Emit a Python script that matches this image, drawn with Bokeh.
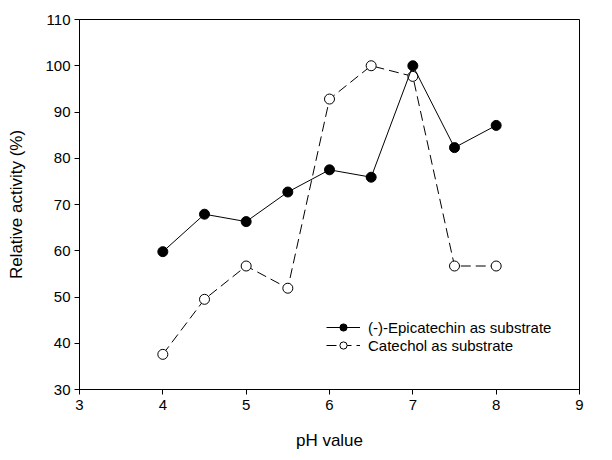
from bokeh.plotting import figure
from bokeh.models import Range1d, Legend, LegendItem, FixedTicker, ColumnDataSource
from bokeh.embed import file_html
from bokeh.resources import INLINE

ph = [4.0, 4.5, 5.0, 5.5, 6.0, 6.5, 7.0, 7.5, 8.0]
epicatechin = [59.8, 67.9, 66.3, 72.7, 77.5, 75.9, 100.0, 82.3, 87.1]
catechol = [37.6, 49.5, 56.7, 51.9, 92.8, 100.0, 97.7, 56.7, 56.7]
x_ticks = [3, 4, 5, 6, 7, 8, 9]
y_ticks = [30, 40, 50, 60, 70, 80, 90, 100, 110]
series_names = ["(-)-Epicatechin as substrate", "Catechol as substrate"]

FONT = "Liberation Sans"

p = figure(width=604, height=452, output_backend="svg", toolbar_location=None,
           x_range=Range1d(3, 9), y_range=Range1d(30, 110),
           min_border_left=79, min_border_right=25, min_border_top=19, min_border_bottom=53)
p.xgrid.visible = False
p.ygrid.visible = False
p.outline_line_color = "black"
p.outline_line_width = 1
p.background_fill_color = "white"
p.border_fill_color = "white"

src1 = ColumnDataSource(dict(x=ph, y=epicatechin))
src2 = ColumnDataSource(dict(x=ph, y=catechol))

l2 = p.line("x", "y", source=src2, line_color="black", line_width=1, line_dash="10 5")
s2 = p.scatter("x", "y", source=src2, size=10, fill_color="white", line_color="black", line_width=1)
l1 = p.line("x", "y", source=src1, line_color="black", line_width=1)
s1 = p.scatter("x", "y", source=src1, size=10, fill_color="black", line_color="black", line_width=1)

for ax in (p.xaxis[0], p.yaxis[0]):
    ax.axis_line_color = "black"
    ax.major_tick_line_color = "black"
    ax.major_tick_out = 5
    ax.major_tick_in = 0
    ax.minor_tick_line_color = None
    ax.major_label_text_font = FONT
    ax.major_label_text_font_size = "15px"
    ax.major_label_text_color = "black"
    ax.axis_label_text_font = FONT
    ax.axis_label_text_font_size = "17px"
    ax.axis_label_text_font_style = "normal"
    ax.axis_label_text_color = "black"

p.xaxis.ticker = FixedTicker(ticks=x_ticks)
p.yaxis.ticker = FixedTicker(ticks=y_ticks)
p.xaxis.axis_label = "pH value"
p.yaxis.axis_label = "Relative activity (%)"
p.xaxis.major_label_standoff = 5
p.yaxis.major_label_standoff = 4
p.xaxis.axis_label_standoff = 18
p.yaxis.axis_label_standoff = 16

legend = Legend(items=[LegendItem(label=series_names[0], renderers=[l1, s1]),
                       LegendItem(label=series_names[1], renderers=[l2, s2])],
                location=(247, 35), orientation="vertical")
legend.background_fill_alpha = 0
legend.border_line_color = None
legend.padding = 0
legend.margin = 0
legend.spacing = 0
legend.glyph_width = 34
legend.glyph_height = 18
legend.label_height = 18
legend.label_standoff = 8
legend.label_text_font = FONT
legend.label_text_font_size = "15px"
legend.label_text_color = "black"
p.add_layout(legend, "center")

open("out.html", "w").write(file_html(p, INLINE))
